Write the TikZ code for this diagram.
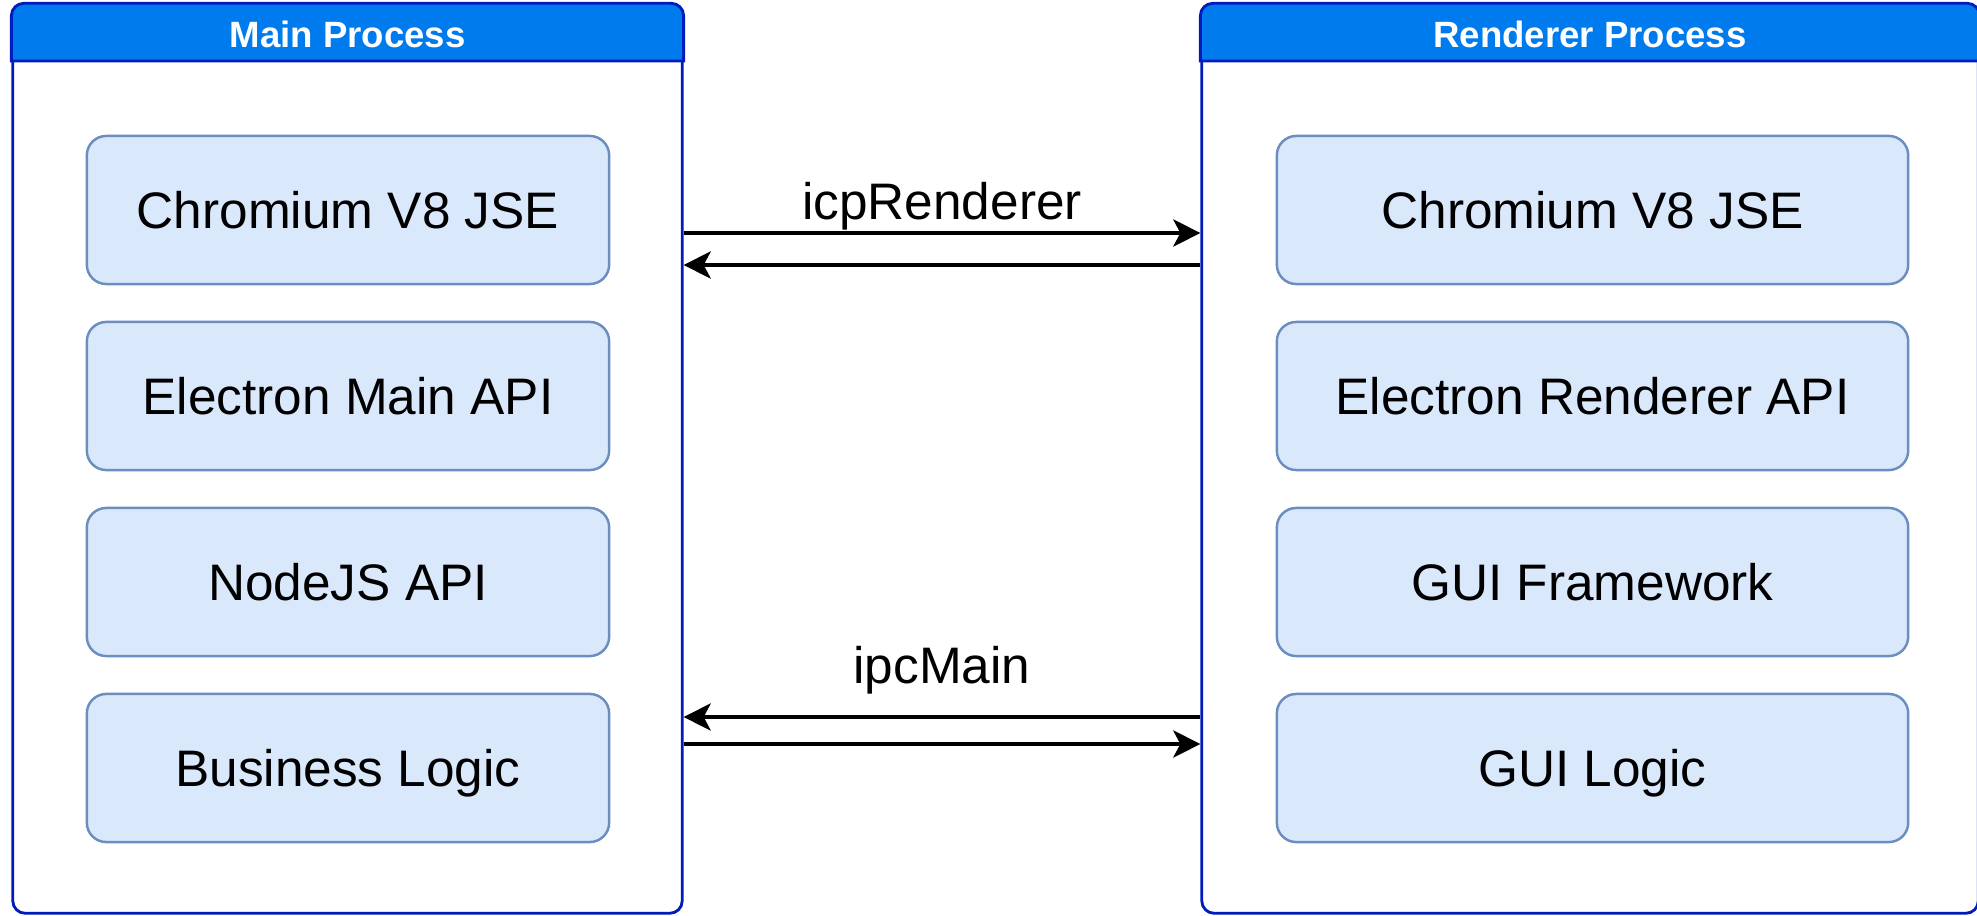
\documentclass[tikz,border=0pt]{standalone}
\usepackage{fontspec}
\setmainfont{Liberation Sans}
\usetikzlibrary{arrows.meta}
\definecolor{procborder}{RGB}{0,29,188}
\definecolor{prochead}{RGB}{0,123,238}
\definecolor{layerfill}{HTML}{DAE8FC}
\definecolor{layerborder}{HTML}{6C8EBF}
\begin{document}
\begin{tikzpicture}[x=0.01cm,y=-0.01cm]
  \tikzstyle{proc}=[draw=procborder, line width=0.8pt, rounded corners=3.5pt, fill=white]
  \tikzstyle{head}=[draw=procborder, line width=0.8pt, fill=prochead]
  \tikzstyle{headtext}=[text=white, font=\fontsize{10.4}{12}\selectfont\bfseries]
  \tikzstyle{layer}=[draw=layerborder, line width=0.7pt, fill=layerfill, rounded corners=5.5pt,
    minimum height=1.48cm, text height=10.5pt, text depth=0pt, font=\fontsize{14.6}{17}\selectfont]
  \tikzstyle{link}=[line width=1.15pt, -{Stealth[length=7.7pt,width=7.7pt,inset=2pt]}]
  \tikzstyle{lbl}=[anchor=base, inner sep=0pt, font=\fontsize{14.6}{17}\selectfont]
  \useasboundingbox (0,0) rectangle (1977,915);
  % the two processes
  \node[proc, minimum width=6.69cm, minimum height=9.08cm] (mainproc) at (347.5,459) {};
  \node[proc, minimum width=7.76cm, minimum height=9.08cm] (rendproc) at (1590,459) {};
  \filldraw[head] (mainproc.west |- 0,61) [rounded corners=3.5pt] -- (mainproc.north west)
    -- (mainproc.north east) [sharp corners] -- (mainproc.east |- 0,61) -- cycle;
  \filldraw[head] (rendproc.west |- 0,61) [rounded corners=3.5pt] -- (rendproc.north west)
    -- (rendproc.north east) [sharp corners] -- (rendproc.east |- 0,61) -- cycle;
  \node[headtext] (mainhead) at (347.5,34) {Main Process};
  \node[headtext] (rendhead) at (1590,34) {Renderer Process};
  % layers
  \foreach \txt [count=\i] in {Chromium V8 JSE, Electron Main API, NodeJS API, Business Logic}
    \node[layer, minimum width=5.22cm] (mainl\i) at (348,{210+186*(\i-1)}) {\txt};
  \foreach \txt [count=\i] in {Chromium V8 JSE, Electron Renderer API, GUI Framework, GUI Logic}
    \node[layer, minimum width=6.31cm] (rendl\i) at (1592.5,{210+186*(\i-1)}) {\txt};
  % ipc
  \draw[link] (mainproc.east |- 0,233) -- (rendproc.west |- 0,233);
  \draw[link] (rendproc.west |- 0,265) -- (mainproc.east |- 0,265);
  \draw[link] (rendproc.west |- 0,717) -- (mainproc.east |- 0,717);
  \draw[link] (mainproc.east |- 0,744) -- (rendproc.west |- 0,744);
  \node[lbl] (rendlbl) at (942,219) {icpRenderer};
  \node[lbl] (mainlbl) at (942,683) {ipcMain};
\end{tikzpicture}
\end{document}
